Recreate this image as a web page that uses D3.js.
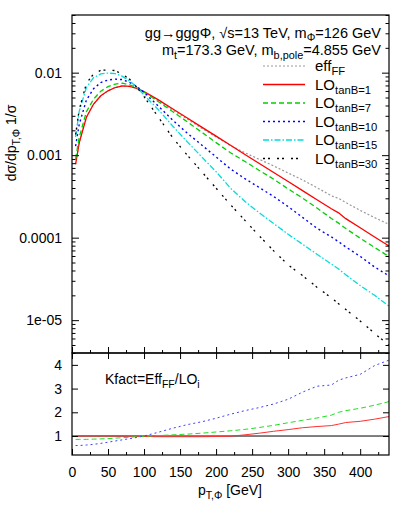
<!DOCTYPE html>
<html><head><meta charset="utf-8">
<script src="https://cdn.jsdelivr.net/npm/d3@7"></script>
<style>body{margin:0;background:#fff}svg{display:block;font-family:"Liberation Sans",Arial,sans-serif}</style>
</head><body>
<svg id="c" width="395" height="505"></svg>
<script>
// ---- data ----
const pT = [5,10,20,30,40,50,60,70,80,90,100,120,140,160,180,200,220,240,260,280,300,320,340,360,370,380,400,420,440];
const effFF = [7.76e-4,1.41e-3,2.88e-3,4.17e-3,5.25e-3,6.03e-3,6.61e-3,6.92e-3,6.78e-3,6.40e-3,5.77e-3,4.54e-3,3.52e-3,2.74e-3,2.12e-3,1.66e-3,1.31e-3,1.07e-3,8.89e-4,7.40e-4,6.08e-4,5.01e-4,4.04e-4,3.22e-4,2.99e-4,2.67e-4,2.14e-4,1.75e-4,1.45e-4];
const lo1 = [7.76e-4,1.41e-3,2.88e-3,4.17e-3,5.25e-3,6.03e-3,6.61e-3,6.92e-3,6.84e-3,6.46e-3,5.89e-3,4.68e-3,3.63e-3,2.82e-3,2.19e-3,1.70e-3,1.32e-3,1.02e-3,7.94e-4,6.17e-4,4.79e-4,3.72e-4,2.88e-4,2.24e-4,2.00e-4,1.70e-4,1.32e-4,1.02e-4,7.94e-5];
const lo7 = [9.04e-4,1.64e-3,3.36e-3,4.79e-3,5.97e-3,6.78e-3,7.26e-3,7.45e-3,7.13e-3,6.59e-3,5.82e-3,4.45e-3,3.36e-3,2.54e-3,1.90e-3,1.42e-3,1.07e-3,8.39e-4,6.53e-4,5.11e-4,3.90e-4,3.02e-4,2.29e-4,1.71e-4,1.50e-4,1.29e-4,9.86e-5,7.60e-5,5.90e-5];
const lo10 = [1.29e-3,2.36e-3,4.66e-3,6.41e-3,7.60e-3,8.15e-3,8.36e-3,8.24e-3,7.62e-3,6.81e-3,5.77e-3,3.92e-3,2.65e-3,1.85e-3,1.33e-3,9.51e-4,6.81e-4,5.19e-4,4.05e-4,3.15e-4,2.38e-4,1.76e-4,1.30e-4,1.02e-4,8.93e-5,7.73e-5,5.94e-5,4.41e-5,3.44e-5];
const lo15 = [1.66e-3,3.39e-3,6.61e-3,8.71e-3,9.66e-3,9.89e-3,9.72e-3,9.02e-3,7.94e-3,6.65e-3,5.37e-3,3.55e-3,2.24e-3,1.45e-3,9.55e-4,6.31e-4,3.98e-4,2.75e-4,2.00e-4,1.48e-4,1.10e-4,8.32e-5,6.31e-5,4.79e-5,4.17e-5,3.55e-5,2.63e-5,2.00e-5,1.48e-5];
const lo30 = [1.78e-3,3.55e-3,7.41e-3,9.66e-3,1.07e-2,1.08e-2,1.06e-2,9.55e-3,8.32e-3,6.65e-3,5.13e-3,2.88e-3,1.62e-3,1.00e-3,6.31e-4,3.98e-4,2.51e-4,1.62e-4,1.05e-4,6.92e-5,4.68e-5,3.47e-5,2.51e-5,1.86e-5,1.58e-5,1.35e-5,9.77e-6,6.92e-6,4.95e-6];
const kfact1 = [1.0,1.0,1.0,1.0,1.0,1.0,1.0,1.0,0.99,0.99,0.98,0.97,0.97,0.97,0.97,0.98,0.99,1.05,1.12,1.2,1.27,1.35,1.4,1.44,1.5,1.57,1.62,1.71,1.82];
const kfact7 = [0.86,0.86,0.86,0.87,0.88,0.89,0.91,0.93,0.95,0.97,0.99,1.02,1.05,1.08,1.12,1.17,1.22,1.28,1.36,1.45,1.56,1.66,1.76,1.88,2.0,2.07,2.17,2.3,2.45];
const kfact10 = [0.6,0.6,0.62,0.65,0.69,0.74,0.79,0.84,0.89,0.94,1.0,1.16,1.33,1.48,1.6,1.75,1.92,2.07,2.2,2.35,2.55,2.85,3.1,3.15,3.35,3.45,3.6,3.97,4.2];
const xTicks = [0,50,100,150,200,250,300,350,400];
const yTicks = [1e-5,1e-4,1e-3,1e-2];
const yTickLabels = ["1e-05","0.0001","0.001","0.01"];
const kTicks = [1,2,3,4];
const kTickLabels = ["1","2","3","4"];

// ---- layout ----
const svg = d3.select("#c");
const L = 72, R = 389, T = 15, M = 353, B = 455;
const x = d3.scaleLinear().domain([0,440]).range([L,R]);
const y = d3.scaleLog().domain([4e-6,0.05]).range([M,T]);
const yk = d3.scaleLinear().domain([0.2,4.5]).range([B,M]);
const fs = 14;

svg.append("defs").append("clipPath").attr("id","cm").append("rect").attr("x",L).attr("y",T).attr("width",R-L).attr("height",M-T);
svg.append("defs").append("clipPath").attr("id","ck").append("rect").attr("x",L).attr("y",M).attr("width",R-L).attr("height",B-M);

const series = [
  {name:"eff", data:effFF, color:"#999999", dash:"2,2", w:1.2},
  {name:"1", data:lo1, color:"#ff0000", dash:null, w:1.3},
  {name:"7", data:lo7, color:"#00d000", dash:"5,3", w:1.3},
  {name:"10", data:lo10, color:"#0000ff", dash:"2,3", w:1.4},
  {name:"15", data:lo15, color:"#00dddd", dash:"6,2,1.5,2", w:1.3},
  {name:"30", data:lo30, color:"#000000", dash:"2,3,2,7", w:1.3}
];

const line = d3.line().x((d,i)=>x(pT[i])).y(d=>y(d));
const gm = svg.append("g").attr("clip-path","url(#cm)");
series.forEach(s=>{
  gm.append("path").attr("d",line(s.data)).attr("fill","none").attr("stroke",s.color)
    .attr("stroke-width",s.w).attr("stroke-dasharray",s.dash);
});

// lower panel
const gk = svg.append("g").attr("clip-path","url(#ck)");
gk.append("line").attr("x1",L).attr("x2",R).attr("y1",yk(1)).attr("y2",yk(1)).attr("stroke","#000").attr("stroke-width",1);
const kline = d3.line().x((d,i)=>x(pT[i])).y(d=>yk(d));
[[kfact1,"#ff3030",null],[kfact7,"#20e020","5,3"],[kfact10,"#4040ff","2,3"]].forEach(([d,c,da])=>{
  gk.append("path").attr("d",kline(d)).attr("fill","none").attr("stroke",c).attr("stroke-width",1).attr("stroke-dasharray",da);
});

// ---- axes ----
function styleAxis(g){ g.select(".domain").remove(); g.selectAll("line").attr("stroke","#000"); g.selectAll("text").attr("font-size",fs).attr("fill","#000").attr("font-family","Liberation Sans, Arial, sans-serif"); }
const minorY = [];
[1e-6,1e-5,1e-4,1e-3,1e-2].forEach(d=>{for(let k=2;k<=9;k++){const v=d*k; if(v>=4e-6&&v<=0.05) minorY.push(v);}});
svg.append("g").attr("transform",`translate(${L},0)`).call(d3.axisLeft(y).tickValues(yTicks).tickFormat((d,i)=>yTickLabels[i]).tickSizeInner(-7).tickSizeOuter(0).tickPadding(10)).call(styleAxis);
svg.append("g").attr("transform",`translate(${L},0)`).call(d3.axisLeft(y).tickValues(minorY).tickFormat("").tickSizeInner(-3.5).tickSizeOuter(0)).call(styleAxis);
svg.append("g").attr("transform",`translate(${R},0)`).call(d3.axisRight(y).tickValues(yTicks).tickFormat("").tickSizeInner(-7).tickSizeOuter(0)).call(styleAxis);
svg.append("g").attr("transform",`translate(${R},0)`).call(d3.axisRight(y).tickValues(minorY).tickFormat("").tickSizeInner(-3.5).tickSizeOuter(0)).call(styleAxis);
const minorX = d3.range(25,440,50);
svg.append("g").attr("transform",`translate(0,${M})`).call(d3.axisBottom(x).tickValues(xTicks).tickFormat("").tickSizeInner(-6).tickSizeOuter(0)).call(styleAxis);
svg.append("g").attr("transform",`translate(0,${M})`).call(d3.axisBottom(x).tickValues(minorX).tickFormat("").tickSizeInner(-3).tickSizeOuter(0)).call(styleAxis);
svg.append("g").attr("transform",`translate(0,${B})`).call(d3.axisBottom(x).tickValues(xTicks).tickFormat(d3.format("d")).tickSizeInner(-6).tickSizeOuter(0).tickPadding(12)).call(styleAxis);
svg.append("g").attr("transform",`translate(0,${B})`).call(d3.axisBottom(x).tickValues(minorX).tickFormat("").tickSizeInner(-3).tickSizeOuter(0)).call(styleAxis);
svg.append("g").attr("transform",`translate(0,${M})`).call(d3.axisTop(x).tickValues(xTicks).tickFormat("").tickSizeInner(-6).tickSizeOuter(0)).call(styleAxis);
svg.append("g").attr("transform",`translate(${L},0)`).call(d3.axisLeft(yk).tickValues(kTicks).tickFormat((d,i)=>kTickLabels[i]).tickSizeInner(-6).tickSizeOuter(0).tickPadding(10)).call(styleAxis);
svg.append("g").attr("transform",`translate(${R},0)`).call(d3.axisRight(yk).tickValues(kTicks).tickFormat("").tickSizeInner(-6).tickSizeOuter(0)).call(styleAxis);

svg.append("rect").attr("x",L).attr("y",T).attr("width",R-L).attr("height",M-T).attr("fill","none").attr("stroke","#000").attr("stroke-width",1.2);
svg.append("rect").attr("x",L).attr("y",M).attr("width",R-L).attr("height",B-M).attr("fill","none").attr("stroke","#000").attr("stroke-width",1.2);

// ---- texts ----
function rich(g, parts, attrs, size, shift){
  shift = shift || 4;
  const t = g.append("text");
  Object.entries(attrs).forEach(([k,v])=>t.attr(k,v));
  t.attr("font-size", size);
  let shifted = 0;
  parts.forEach(p=>{
    const sub = typeof p !== "string";
    const txt = sub ? p.sub : p;
    const dy = sub ? shift - shifted : -shifted;
    shifted = sub ? shift : 0;
    const ts = t.append("tspan").text(txt).attr("dy", dy);
    if(sub) ts.attr("font-size", size*0.75);
  });
  return t;
}
rich(svg, ["gg\u2192gggΦ, \u221As=13 TeV, m",{sub:"Φ"},"=126 GeV"], {x:381,y:38,"text-anchor":"end"}, 14.5, 3);
rich(svg, ["m",{sub:"t"},"=173.3 GeV, m",{sub:"b,pole"},"=4.855 GeV"], {x:381,y:55,"text-anchor":"end"}, 14.5, 3.5);

const legNames = [["eff",{sub:"FF"}],["LO",{sub:"tanB=1"}],["LO",{sub:"tanB=7"}],["LO",{sub:"tanB=10"}],["LO",{sub:"tanB=15"}],["LO",{sub:"tanB=30"}]];
series.forEach((s,i)=>{
  const yy = 66 + i*18.5;
  svg.append("line").attr("x1",263).attr("x2",305).attr("y1",yy).attr("y2",yy).attr("stroke",s.color).attr("stroke-width",s.w).attr("stroke-dasharray",s.dash);
  rich(svg, legNames[i], {x:315,y:yy+5}, 15, 4);
});

rich(svg, ["Kfact=Eff",{sub:"FF"},"/LO",{sub:"i"}], {x:105,y:384}, 14, 4);
rich(svg, ["p",{sub:"T,Φ"}," [GeV]"], {x:230,y:495,"text-anchor":"middle"}, 14, 4);
rich(svg, ["dσ/dp",{sub:"T,Φ"}," 1/σ"], {x:0,y:0,"text-anchor":"middle",transform:"translate(16,143) rotate(-90)"}, 14, 4);
</script>
</body></html>
